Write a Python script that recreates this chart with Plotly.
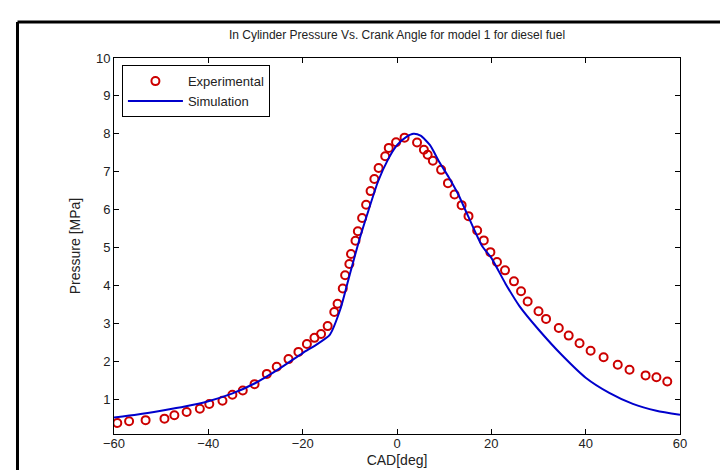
import plotly.graph_objects as go

# experimental points (red circles)
exp_cad = [-59.3, -56.8, -53.3, -49.3, -47.2, -44.6, -41.8, -39.8, -37.0, -34.9,
           -32.7, -30.2, -27.6, -25.5, -23.0, -20.9, -19.1, -17.5, -16.1, -14.7,
           -13.3, -12.6, -11.5, -11.0, -10.1, -9.75, -8.8, -8.3, -7.4, -6.55,
           -5.6, -4.8, -3.9, -2.5, -1.75, -0.2, 1.6, 4.25, 5.7, 6.5,
           7.6, 9.35, 10.8, 12.2, 13.7, 15.16, 17.0, 18.4, 19.8, 21.2,
           22.9, 24.8, 26.3, 27.7, 30.0, 31.6, 34.3, 36.4, 38.7, 41.05,
           43.8, 46.8, 49.3, 52.7, 55.0, 57.3]
exp_p = [0.375, 0.42, 0.45, 0.49, 0.58, 0.665, 0.75, 0.876, 0.963, 1.12,
         1.23, 1.40, 1.67, 1.86, 2.06, 2.25, 2.46, 2.62, 2.72, 2.93,
         3.30, 3.52, 3.92, 4.27, 4.57, 4.83, 5.18, 5.43, 5.78, 6.13,
         6.49, 6.81, 7.10, 7.41, 7.63, 7.78, 7.90, 7.77, 7.58, 7.45,
         7.29, 7.05, 6.70, 6.40, 6.12, 5.83, 5.45, 5.19, 4.88, 4.62,
         4.40, 4.11, 3.85, 3.58, 3.32, 3.12, 2.88, 2.68, 2.48, 2.28,
         2.11, 1.91, 1.78, 1.63, 1.58, 1.47]

# simulation curve (blue line)
sim_cad = [-60, -55, -50, -45, -40, -35, -30, -25, -20, -17, -14.3, -12, -10, -8,
           -6, -4, -2, 0, 2, 3.5, 5, 7, 9, 11, 13, 15, 18, 20, 23, 26, 30,
           35, 40, 45, 50, 55, 60]
sim_p = [0.52, 0.60, 0.70, 0.81, 0.95, 1.15, 1.43, 1.80, 2.22, 2.45, 2.69, 3.38,
         4.30, 5.20, 6.00, 6.75, 7.30, 7.70, 7.92, 8.00, 7.95, 7.70, 7.25, 6.85,
         6.40, 5.85, 5.05, 4.73, 4.05, 3.45, 2.84, 2.16, 1.57, 1.17, 0.88, 0.70,
         0.59]

x_ticks = [-60, -40, -20, 0, 20, 40, 60]
y_ticks = [1, 2, 3, 4, 5, 6, 7, 8, 9, 10]

fig = go.Figure()
fig.add_trace(go.Scatter(x=exp_cad, y=exp_p, mode='markers', name='Experimental',
                         marker=dict(symbol='circle-open', size=8, color='#cc0000',
                                     line=dict(width=2, color='#cc0000'))))
fig.add_trace(go.Scatter(x=sim_cad, y=sim_p, mode='lines', name='Simulation',
                         line=dict(color='#0000cc', width=2, shape='spline', smoothing=0.6)))

axis_style = dict(showline=True, linecolor='black', linewidth=1, mirror='allticks',
                  ticks='inside', ticklen=5, tickcolor='black', showgrid=False,
                  zeroline=False, tickfont=dict(size=13, color='#222'))

fig.update_layout(
    width=728,
    height=470,
    margin=dict(l=106, r=56, t=50, b=44),
    paper_bgcolor='white',
    plot_bgcolor='white',
    font=dict(family='Liberation Sans, Arial, sans-serif', size=12, color='#222'),
    title=dict(text='In Cylinder Pressure Vs. Crank Angle for model 1 for diesel fuel',
               x=(106 + 283) / 728, xanchor='center', y=1 - 27 / 470, yanchor='middle',
               font=dict(size=12)),
    xaxis=dict(range=[-60, 60], tickvals=x_ticks, ticklabelstandoff=-3,
               title=dict(text='CAD[deg]', standoff=5), **axis_style),
    yaxis=dict(range=[0.085, 10], tickvals=y_ticks,
               title=dict(text='Pressure [MPa]', standoff=12), **axis_style),
    legend=dict(x=0.014, y=0.981, xanchor='left', yanchor='top', bgcolor='white',
                bordercolor='black', borderwidth=1, font=dict(size=13),
                tracegroupgap=0, itemwidth=55),
    showlegend=True,
    shapes=[
        dict(type='line', xref='paper', yref='paper', x0=-0.1705, x1=1.2, y0=1.0957, y1=1.0957,
             line=dict(color='black', width=3)),
        dict(type='line', xref='paper', yref='paper', x0=-0.1705, x1=-0.1705, y0=-0.2, y1=1.0957,
             line=dict(color='black', width=3)),
    ],
)

fig.write_html("out.html")
